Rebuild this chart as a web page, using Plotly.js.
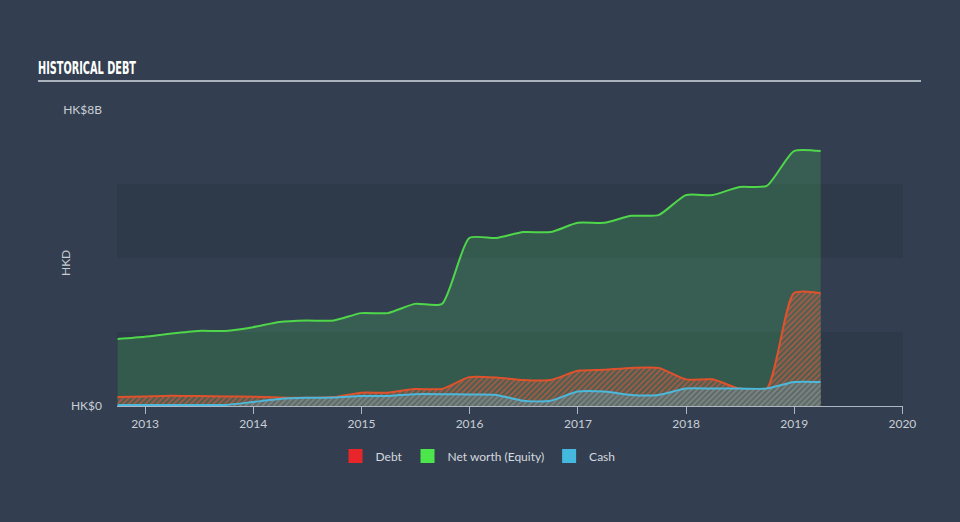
<!DOCTYPE html>
<html>
<head>
<meta charset="utf-8">
<script src="https://cdn.plot.ly/plotly-3.0.1.min.js"></script>
<style>
html,body{margin:0;padding:0;background:#333f50;}
#chart{width:960px;height:522px;}
</style>
</head>
<body>
<div id="chart"></div>
<script>
// Quarter-end dates (HK$ billions)
const dates = ["2012-09-30","2012-12-31","2013-03-31","2013-06-30","2013-09-30","2013-12-31",
  "2014-03-31","2014-06-30","2014-09-30","2014-12-31","2015-03-31","2015-06-30","2015-09-30",
  "2015-12-31","2016-03-31","2016-06-30","2016-09-30","2016-12-31","2017-03-31","2017-06-30",
  "2017-09-30","2017-12-31","2018-03-31","2018-06-30","2018-09-30","2018-12-31","2019-03-31"];
const netWorth = [1.81,1.87,1.96,2.03,2.03,2.13,2.27,2.31,2.31,2.51,2.51,2.76,2.76,
  4.54,4.54,4.70,4.70,4.95,4.95,5.14,5.16,5.70,5.70,5.92,5.95,6.89,6.89];
const debt = [0.24,0.26,0.28,0.27,0.26,0.25,0.23,0.22,0.24,0.36,0.36,0.46,0.46,
  0.78,0.77,0.70,0.70,0.95,0.98,1.03,1.03,0.72,0.72,0.47,0.47,3.05,3.05];
const cash = [0.03,0.03,0.03,0.03,0.03,0.11,0.19,0.22,0.23,0.27,0.27,0.32,0.32,
  0.31,0.30,0.14,0.14,0.39,0.39,0.30,0.30,0.47,0.47,0.47,0.47,0.65,0.65];
const seriesNames = ["Debt","Net worth (Equity)","Cash"];
const seriesColors = ["#e8262a","#4ce64c","#45b8de"];
const yTickVals = [0, 8];
const yTickText = ["HK$0", "HK$8B"];

const traces = [
  {x: dates, y: netWorth, type: "scatter", mode: "lines", fill: "tozeroy",
   line: {color: "#4fd64a", width: 2, shape: "spline", smoothing: 0.6},
   fillcolor: "rgba(76,200,90,0.22)", showlegend: false, hoverinfo: "skip"},
  {x: dates, y: debt, type: "scatter", mode: "lines", fill: "tozeroy",
   line: {color: "#e0522c", width: 2, shape: "spline", smoothing: 0.6},
   fillcolor: "rgba(0,0,0,0)",
   fillpattern: {shape: "/", fgcolor: "rgba(190,90,65,0.75)", bgcolor: "rgba(95,100,85,0.45)", size: 4, solidity: 0.5},
   showlegend: false, hoverinfo: "skip"},
  {x: dates, y: cash, type: "scatter", mode: "lines", fill: "tozeroy",
   line: {color: "#4bb8dc", width: 2, shape: "spline", smoothing: 0.6},
   fillcolor: "rgba(0,0,0,0)",
   fillpattern: {shape: "/", fgcolor: "rgba(125,135,135,0.9)", bgcolor: "rgba(92,106,102,0.9)", size: 4, solidity: 0.5},
   showlegend: false, hoverinfo: "skip"}
];
seriesNames.forEach((n, i) => {
  traces.push({x: [null], y: [null], type: "scatter", mode: "markers", name: n,
    marker: {symbol: "square", size: 14, color: seriesColors[i]}, hoverinfo: "skip"});
});

const layout = {
  width: 960, height: 522,
  paper_bgcolor: "#333f50", plot_bgcolor: "rgba(0,0,0,0)",
  margin: {l: 117, r: 57, t: 110, b: 116},
  font: {family: "Lato, 'Open Sans', sans-serif", color: "#c9ced6", size: 12},
  title: {text: "HISTORICAL DEBT", xref: "container", yref: "container", x: 38/960, xanchor: "left",
    y: 1 - 68/522, yanchor: "middle",
    font: {family: "'DejaVu Sans', sans-serif", size: 17, color: "#ffffff", weight: "bold"}},
  xaxis: {type: "date", range: ["2012-09-28", "2020-01-03"], showgrid: false, zeroline: false,
    showline: true, linecolor: "#aeb6c2", linewidth: 1,
    ticks: "outside", ticklen: 7, tickcolor: "#aeb6c2", tickwidth: 1,
    tick0: "2013-01-01", dtick: "M12", tickformat: "%Y",
    tickfont: {size: 12, color: "#c9ced6"}, fixedrange: true},
  yaxis: {range: [0, 8], showgrid: false, zeroline: false, showline: false,
    tickvals: yTickVals, ticktext: yTickText, ticks: "", ticklabelstandoff: 14,
    tickfont: {size: 12, color: "#c9ced6"}, fixedrange: true},
  shapes: [
    {type: "rect", xref: "paper", yref: "y", x0: 0, x1: 1, y0: 0, y1: 2, fillcolor: "#2e3a4a", line: {width: 0}, layer: "below"},
    {type: "rect", xref: "paper", yref: "y", x0: 0, x1: 1, y0: 4, y1: 6, fillcolor: "#2e3a4a", line: {width: 0}, layer: "below"},
    {type: "line", xref: "paper", yref: "paper", x0: (38-117)/786, x1: (921-117)/786, y0: (406-81)/296, y1: (406-81)/296,
     line: {color: "#aab2bd", width: 2}}
  ],
  annotations: [
    {text: "HKD", xref: "paper", yref: "paper", x: (65-117)/786, y: (406-263)/296, showarrow: false,
     textangle: -90, font: {size: 12, color: "#c9ced6"}, xanchor: "center", yanchor: "middle"}
  ],
  legend: {orientation: "h", x: (478-117)/786, xanchor: "center", y: (406-456)/296, yanchor: "middle",
    font: {size: 12, color: "#d5d9df"}, bgcolor: "rgba(0,0,0,0)", itemclick: false},
  hovermode: false
};
Plotly.newPlot("chart", traces, layout, {displayModeBar: false, staticPlot: true}).then(() => {
  const t = document.querySelector(".gtitle");
  if (t) {
    t.setAttribute("textLength", "98");
    t.setAttribute("lengthAdjust", "spacingAndGlyphs");
  }
});
</script>
</body>
</html>
